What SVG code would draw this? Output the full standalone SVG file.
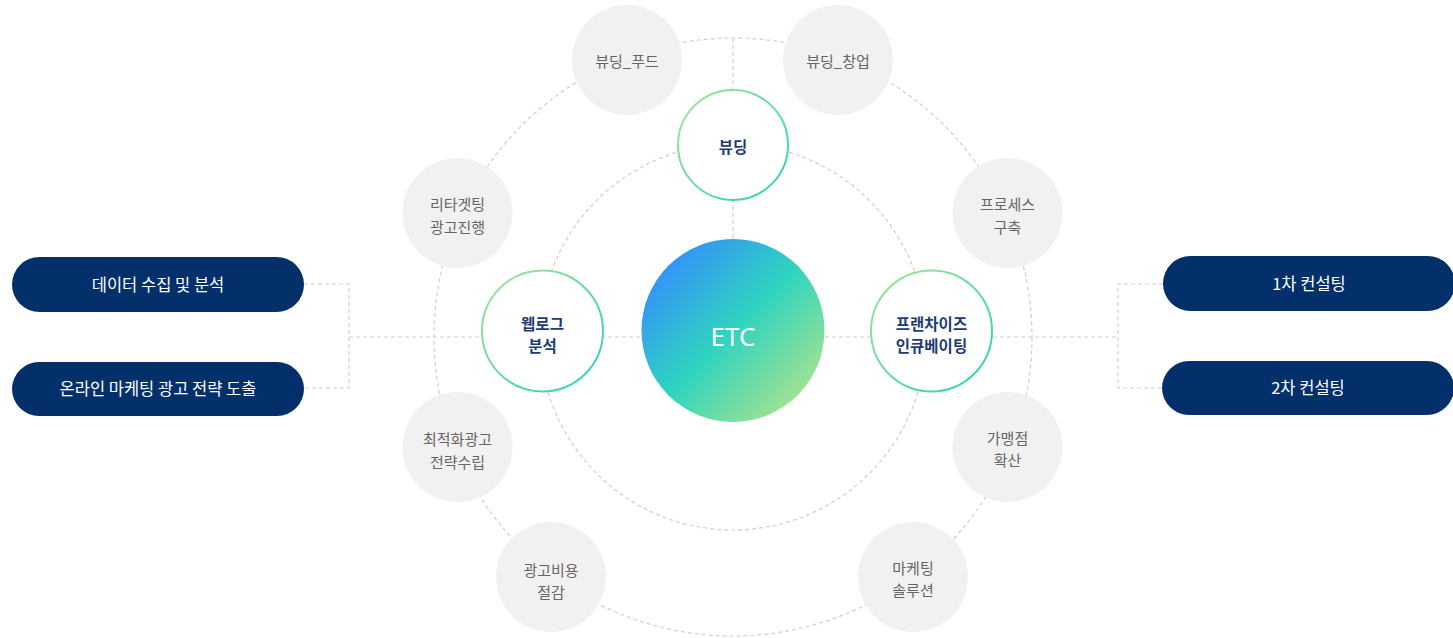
<svg xmlns="http://www.w3.org/2000/svg" width="1453" height="638" viewBox="0 0 1453 638">
<style>
.dash{fill:none;stroke:#cfcfcf;stroke-width:1.2;stroke-dasharray:4 3}
.gray{fill:#f1f1f1}
.gt{font-family:"Noto Sans CJK KR","Noto Sans",sans-serif;font-size:15px;fill:#666;text-anchor:middle;dominant-baseline:central}
.node{fill:#fff;stroke:url(#ring);stroke-width:2}
.nt{font-family:"Noto Sans CJK KR","Noto Sans",sans-serif;font-size:15.5px;font-weight:700;fill:#1d3c73;text-anchor:middle;dominant-baseline:central}
.pill{fill:#03306a}
.pt{font-family:"Noto Sans CJK KR","Noto Sans",sans-serif;font-size:16.5px;fill:#fff;text-anchor:middle;dominant-baseline:central}
</style>
<defs>
<linearGradient id="etc" x1="0.12" y1="0.12" x2="0.88" y2="0.88">
<stop offset="0" stop-color="#3490fb"/>
<stop offset="0.5" stop-color="#2fd4bf"/>
<stop offset="1" stop-color="#a4e391"/>
</linearGradient>
<linearGradient id="ring" x1="0" y1="0" x2="1" y2="1">
<stop offset="0" stop-color="#a6e497"/>
<stop offset="1" stop-color="#27d1c0"/>
</linearGradient>
</defs>
<rect width="1453" height="638" fill="#fff"/>
<g id="connectors">
<circle class="dash" cx="733" cy="337" r="299"/>
<circle class="dash" cx="733" cy="337" r="193"/>
<line class="dash" x1="733" y1="38" x2="733" y2="240"/>
<line class="dash" x1="349" y1="337" x2="1118" y2="337"/>
<polyline class="dash" points="304,284 349,284 349,388 304,388"/>
<polyline class="dash" points="1163,284 1118,284 1118,388 1163,388"/>
</g>
<g id="g-food"><circle class="gray" cx="627" cy="60" r="55"/><text class="gt" x="627" y="60">뷰딩_푸드</text></g>
<g id="g-startup"><circle class="gray" cx="838" cy="60" r="55"/><text class="gt" x="838" y="60">뷰딩_창업</text></g>
<g id="g-retarget"><circle class="gray" cx="457.5" cy="213" r="55"/><text class="gt" x="457.5" y="203">리타겟팅</text><text class="gt" x="457.5" y="226">광고진행</text></g>
<g id="g-process"><circle class="gray" cx="1007.5" cy="213" r="55"/><text class="gt" x="1007.5" y="203">프로세스</text><text class="gt" x="1007.5" y="226">구축</text></g>
<g id="g-optimize"><circle class="gray" cx="457.5" cy="447" r="55"/><text class="gt" x="457.5" y="438">최적화광고</text><text class="gt" x="457.5" y="461">전략수립</text></g>
<g id="g-cost"><circle class="gray" cx="551" cy="577" r="55"/><text class="gt" x="551" y="569">광고비용</text><text class="gt" x="551" y="591">절감</text></g>
<g id="g-franchise"><circle class="gray" cx="1007.5" cy="447" r="55"/><text class="gt" x="1007.5" y="437">가맹점</text><text class="gt" x="1007.5" y="459">확산</text></g>
<g id="g-marketing"><circle class="gray" cx="913" cy="577" r="55"/><text class="gt" x="913" y="567">마케팅</text><text class="gt" x="913" y="589">솔루션</text></g>
<g id="n-buding"><circle class="node" cx="733" cy="145" r="55"/><text class="nt" x="733" y="146">뷰딩</text></g>
<g id="n-weblog"><circle class="node" cx="542.5" cy="331" r="60.5"/><text class="nt" x="542.5" y="323">웹로그</text><text class="nt" x="542.5" y="345">분석</text></g>
<g id="n-incubating"><circle class="node" cx="931.5" cy="331" r="60.5"/><text class="nt" x="931.5" y="323">프랜차이즈</text><text class="nt" x="931.5" y="345">인큐베이팅</text></g>
<g id="n-etc"><circle cx="733" cy="330.5" r="91.5" fill="url(#etc)"/><text x="733" y="336" font-family="Noto Sans, sans-serif" font-size="26" fill="#fff" text-anchor="middle" dominant-baseline="central">ETC</text></g>
<g id="p-data"><rect class="pill" x="12" y="257" width="292" height="55" rx="27.5"/><text class="pt" x="158" y="284">데이터 수집 및 분석</text></g>
<g id="p-strategy"><rect class="pill" x="12" y="362" width="292" height="54" rx="27"/><text class="pt" x="158" y="388">온라인 마케팅 광고 전략 도출</text></g>
<g id="p-consult1"><rect class="pill" x="1163" y="256" width="292" height="55" rx="27.5"/><text class="pt" x="1309" y="283">1차 컨설팅</text></g>
<g id="p-consult2"><rect class="pill" x="1162" y="361" width="292" height="54" rx="27"/><text class="pt" x="1308" y="387">2차 컨설팅</text></g>
</svg>
